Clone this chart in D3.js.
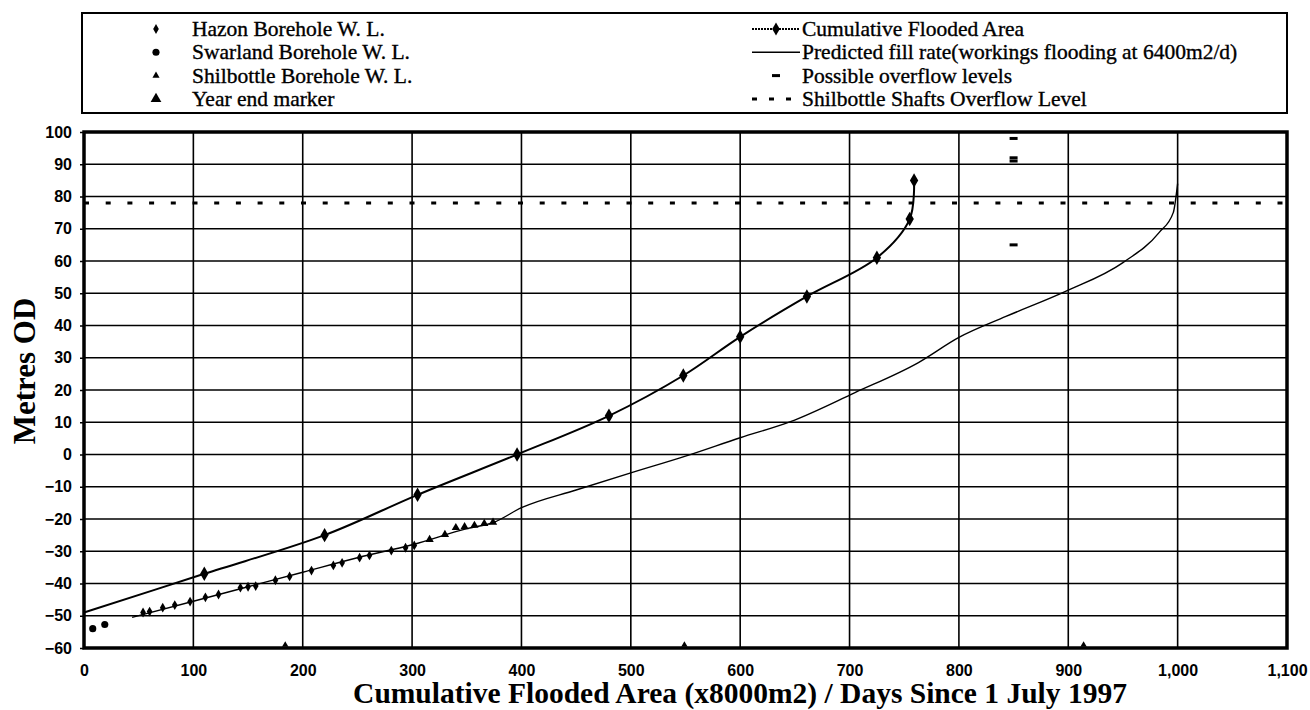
<!DOCTYPE html>
<html>
<head>
<meta charset="utf-8">
<script src="https://cdn.jsdelivr.net/npm/d3@7"></script>
<style>
  html, body { margin: 0; padding: 0; background: #fff; }
  svg { display: block; }
</style>
</head>
<body>
<svg id="chart" width="1310" height="710"></svg>
<script>
// Cumulative flooded area (x8000 m2) against water level
const cumulativeX = [0, 110, 220, 305, 396, 480, 548, 600, 661, 725, 755, 759];
const cumulativeY = [-49, -37, -25, -12.5, 0, 12, 24.5, 36.5, 49, 61, 73, 85];

// Predicted fill rate (workings flooding at 6400 m2/d)
const predictedX = [44, 100, 150, 200, 250, 300, 350, 375, 400, 450, 500, 550, 600, 646, 705, 763, 800, 843, 897, 950, 983, 996, 1000];
const predictedY = [-50.5, -45.5, -41, -36.5, -32, -28, -23, -21, -16.5, -11, -5.7, -0.5, 5.2, 10.2, 19.2, 28.5, 36.3, 42.8, 50.5, 59.5, 68.8, 75, 84];

// Borehole water levels (days since 1 July 1997)
const hazonX = [54, 60, 72, 83, 97, 111, 123, 143, 150, 157, 175, 188, 208, 228, 236, 252, 261, 281, 294, 302];
const hazonY = [-49, -48.7, -47.5, -46.7, -45.6, -44.3, -43.4, -41.3, -41, -40.8, -39, -37.8, -36, -34.4, -33.6, -32, -31.3, -29.8, -28.9, -28.2];
const swarlandX = [8, 19];
const swarlandY = [-54, -52.7];
const shilbottleX = [316, 330, 340, 348, 357, 366, 374];
const shilbottleY = [-26.4, -24.8, -22.7, -22.4, -22, -21.4, -21];

// Year end markers (1 Jan 1998, 1999, 2000)
const yearEndX = [184, 549, 914];
const yearEndY = [-60, -60, -60];

// Possible overflow levels
const overflowX = [850, 850, 850, 850];
const overflowY = [98, 92, 91, 65];

// Shilbottle shafts overflow level
const shaftOverflowLevel = 78;

// Axis ticks
const xTicks = [0, 100, 200, 300, 400, 500, 600, 700, 800, 900, 1000, 1100];
const yTicks = [100, 90, 80, 70, 60, 50, 40, 30, 20, 10, 0, -10, -20, -30, -40, -50, -60];

const legendLeft = ["Hazon Borehole W. L.", "Swarland Borehole W. L.", "Shilbottle Borehole W. L.", "Year end marker"];
const legendRight = ["Cumulative Flooded Area", "Predicted fill rate(workings flooding at 6400m2/d)", "Possible overflow levels", "Shilbottle Shafts Overflow Level"];

const xTitle = "Cumulative Flooded Area (x8000m2) / Days Since 1 July 1997";
const yTitle = "Metres OD";

const svg = d3.select("#chart");
const plot = { left: 84, right: 1287, top: 132, bottom: 648 };

const x = d3.scaleLinear().domain([0, 1100]).range([plot.left, plot.right]);
const y = d3.scaleLinear().domain([-60, 100]).range([plot.bottom, plot.top]);

const serif = "'Liberation Serif', 'Times New Roman', serif";
const sans = "'Liberation Sans', Arial, sans-serif";

// Grid
const grid = svg.append("g");
grid.selectAll("line.h").data(yTicks).join("line")
  .attr("x1", plot.left).attr("x2", plot.right)
  .attr("y1", d => y(d)).attr("y2", d => y(d))
  .attr("stroke", "#000").attr("stroke-width", 1.6);
grid.selectAll("line.v").data(xTicks).join("line")
  .attr("y1", plot.top).attr("y2", plot.bottom)
  .attr("x1", d => x(d)).attr("x2", d => x(d))
  .attr("stroke", "#000").attr("stroke-width", 1.6);

// Axes (labels and ticks; the frame is drawn separately)
const yAxis = d3.axisLeft(y).tickValues(yTicks).tickSize(4).tickPadding(8).tickFormat(d3.format("d"));
const gy = svg.append("g").attr("transform", `translate(${plot.left},0)`).call(yAxis);
gy.select(".domain").remove();
gy.selectAll("text").attr("font-family", sans).attr("font-weight", "bold").attr("font-size", 16).attr("fill", "#000");
gy.selectAll("line").attr("stroke", "#000").attr("stroke-width", 1.5);

const xAxis = d3.axisBottom(x).tickValues(xTicks).tickSize(0).tickPadding(17).tickFormat(d3.format(","));
const gx = svg.append("g").attr("transform", `translate(0,${plot.bottom})`).call(xAxis);
gx.select(".domain").remove();
gx.selectAll("text").attr("font-family", sans).attr("font-weight", "bold").attr("font-size", 16).attr("fill", "#000");

// Frame
svg.append("rect")
  .attr("x", plot.left).attr("y", plot.top)
  .attr("width", plot.right - plot.left).attr("height", plot.bottom - plot.top)
  .attr("fill", "none").attr("stroke", "#000").attr("stroke-width", 3.5);

// Shafts overflow level (dotted)
svg.append("line")
  .attr("x1", plot.left).attr("x2", plot.right)
  .attr("y1", y(shaftOverflowLevel)).attr("y2", y(shaftOverflowLevel))
  .attr("stroke", "#000").attr("stroke-width", 3)
  .attr("stroke-dasharray", "5,16.7");

const line = d3.line().x(d => x(d[0])).y(d => y(d[1])).curve(d3.curveMonotoneX);

// Predicted fill rate
svg.append("path")
  .datum(d3.zip(predictedX, predictedY))
  .attr("d", line)
  .attr("fill", "none").attr("stroke", "#000").attr("stroke-width", 1.4);

// Cumulative flooded area
const cumData = d3.zip(cumulativeX, cumulativeY);
svg.append("path")
  .datum(cumData)
  .attr("d", d3.line().x(d => x(d[0])).y(d => y(d[1])).curve(d3.curveCatmullRom))
  .attr("fill", "none").attr("stroke", "#000").attr("stroke-width", 2);

const diamond = d3.symbol().type(d3.symbolDiamond);
const tri = d3.symbol().type(d3.symbolTriangle);
const circ = d3.symbol().type(d3.symbolCircle);

svg.append("g").selectAll("path").data(cumData.slice(1)).join("path")
  .attr("d", diamond.size(60)())
  .attr("transform", d => `translate(${x(d[0])},${y(d[1])})`)
  .attr("fill", "#000");

// Borehole points
svg.append("g").selectAll("path").data(d3.zip(hazonX, hazonY)).join("path")
  .attr("d", diamond.size(28)())
  .attr("transform", d => `translate(${x(d[0])},${y(d[1])})`)
  .attr("fill", "#000");
svg.append("g").selectAll("path").data(d3.zip(swarlandX, swarlandY)).join("path")
  .attr("d", circ.size(40)())
  .attr("transform", d => `translate(${x(d[0])},${y(d[1])})`)
  .attr("fill", "#000");
svg.append("g").selectAll("path").data(d3.zip(shilbottleX, shilbottleY)).join("path")
  .attr("d", tri.size(30)())
  .attr("transform", d => `translate(${x(d[0])},${y(d[1])})`)
  .attr("fill", "#000");
svg.append("g").selectAll("path").data(d3.zip(yearEndX, yearEndY)).join("path")
  .attr("d", tri.size(18)())
  .attr("transform", d => `translate(${x(d[0])},${y(d[1]) - 3})`)
  .attr("fill", "#000");

// Possible overflow levels (short dashes)
svg.append("g").selectAll("rect").data(d3.zip(overflowX, overflowY)).join("rect")
  .attr("x", d => x(d[0]) - 4).attr("y", d => y(d[1]) - 1.5)
  .attr("width", 8).attr("height", 3)
  .attr("fill", "#000");

// Axis titles
svg.append("text")
  .attr("x", 740).attr("y", 703)
  .attr("text-anchor", "middle")
  .attr("font-family", serif).attr("font-weight", "bold").attr("font-size", 29.5)
  .text(xTitle);
svg.append("text")
  .attr("transform", `translate(35,371) rotate(-90)`)
  .attr("text-anchor", "middle")
  .attr("font-family", serif).attr("font-weight", "bold").attr("font-size", 31)
  .text(yTitle);

// Legend
const lg = svg.append("g");
lg.append("rect")
  .attr("x", 82).attr("y", 13).attr("width", plot.right - 82).attr("height", 100)
  .attr("fill", "#fff").attr("stroke", "#000").attr("stroke-width", 2);

const rowY = i => 29 + i * 23.3;
const legendFont = sel => sel.attr("font-family", serif).attr("font-size", 21.5).attr("fill", "#000")
  .attr("stroke", "#000").attr("stroke-width", 0.35).attr("dominant-baseline", "central");

lg.selectAll("text.l").data(legendLeft).join("text")
  .attr("x", 192).attr("y", (d, i) => rowY(i)).text(d => d).call(legendFont);
lg.selectAll("text.r").data(legendRight).join("text")
  .attr("x", 802).attr("y", (d, i) => rowY(i)).text(d => d).call(legendFont);

const lx = 156;
lg.append("path").attr("d", diamond.size(28)()).attr("transform", `translate(${lx},${rowY(0)})`);
lg.append("path").attr("d", circ.size(40)()).attr("transform", `translate(${lx},${rowY(1)})`);
lg.append("path").attr("d", tri.size(22)()).attr("transform", `translate(${lx},${rowY(2)})`);
lg.append("path").attr("d", tri.size(50)()).attr("transform", `translate(${lx},${rowY(3)})`);

const rx0 = 752, rx1 = 800;
lg.append("line").attr("x1", rx0).attr("x2", rx1).attr("y1", rowY(0)).attr("y2", rowY(0))
  .attr("stroke", "#000").attr("stroke-width", 2).attr("stroke-dasharray", "2,1");
lg.append("path").attr("d", diamond.size(50)()).attr("transform", `translate(${(rx0 + rx1) / 2},${rowY(0)})`);
lg.append("line").attr("x1", rx0).attr("x2", rx1).attr("y1", rowY(1)).attr("y2", rowY(1))
  .attr("stroke", "#000").attr("stroke-width", 1.4);
lg.append("rect").attr("x", 772).attr("y", rowY(2) - 1.5).attr("width", 8).attr("height", 3);
lg.append("line").attr("x1", rx0).attr("x2", rx1).attr("y1", rowY(3)).attr("y2", rowY(3))
  .attr("stroke", "#000").attr("stroke-width", 3).attr("stroke-dasharray", "5,12");
</script>
</body>
</html>
